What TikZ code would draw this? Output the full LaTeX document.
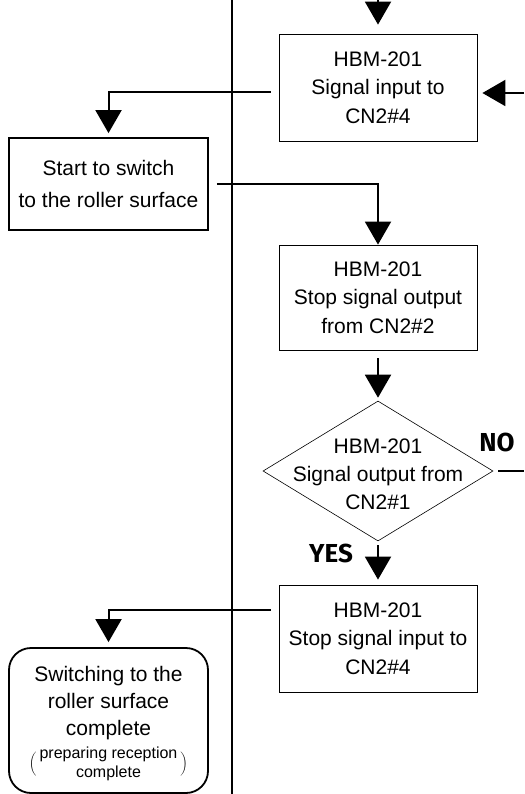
\documentclass[tikz,border=0pt]{standalone}
\usepackage{fontspec}
\setmainfont{Liberation Sans}
\newfontfamily\answerfont{Fira Sans}
\usetikzlibrary{arrows.meta,shapes.geometric}

\begin{document}
\begin{tikzpicture}[x=1pt, y=-1pt,
    procbox/.style={draw, line width=0.8pt, minimum width=198pt, minimum height=106pt,
        inner sep=0pt, align=center, font=\fontsize{21}{28.5}\selectfont},
    thickbox/.style={procbox, line width=1.8pt, minimum width=199pt},
    flowline/.style={line width=2pt, -{Triangle[width=26pt,length=23pt]}},
    answer/.style={font=\answerfont\bfseries\fontsize{26}{26}\selectfont}]
    \useasboundingbox (0,0) rectangle (524,794);

    % Separator between the two columns
    \draw[line width=2pt] (232,0) -- (232,794);

    % Right column: HBM-201 steps
    \node[procbox, minimum height=107pt] (inA) at (378,87.5) {HBM-201\\Signal input to\\CN2\#4};
    \node[procbox, minimum height=105pt] (stopout) at (378,297.5) {HBM-201\\Stop signal output\\ from CN2\#2};
    \node[draw, diamond, line width=0.6pt, minimum width=230pt, minimum height=140pt, inner sep=0pt] (chkout) at (378,471) {};
    \node[align=center, font=\fontsize{21}{28}\selectfont] (chktext) at ([yshift=-3pt]chkout.center) {HBM-201\\Signal output from\\CN2\#1};
    \node[procbox, minimum height=107pt] (stopin) at (378,638.5) {HBM-201\\Stop signal input to\\CN2\#4};
    \node[answer] (yes) at (331,553) {YES};
    \node[answer] (no) at (497,442) {NO};

    % Left column: roller surface
    \node[thickbox, minimum height=92pt, font=\fontsize{21}{32}\selectfont] (startsw) at (108.5,184) {Start to switch\\to the roller surface};
    \node[thickbox, rounded corners=22pt, minimum height=145pt, font=\fontsize{21}{27}\selectfont] (done) at (108.5,720.5)
        {\rule{0pt}{21pt}Switching to the\\roller surface\\complete\\[6pt]
        {\fontsize{16}{19}\selectfont$\Biggl(\vcenter{\halign{\hskip3pt\hfil#\hfil\hskip3pt\cr preparing reception\cr complete\cr}}\Biggr)$}};

    % Connectors
    \coordinate (topin) at (378,0);
    \coordinate (rightin) at (524,93);
    \coordinate (noout) at (524,471);
    \draw[flowline, shorten >=9pt] (topin) -- (inA);
    \draw[flowline, shorten >=5pt] (rightin) -- (rightin -| inA.east);
    \draw[flowline, shorten <=8pt, shorten >=4pt] ([yshift=-4.5pt]inA.west) -| (startsw);
    \draw[flowline, shorten <=8pt] (startsw.east) -| (stopout);
    \draw[flowline, shorten <=8pt, shorten >=3pt] (stopout) -- (chkout);
    \draw[line width=2pt, shorten <=5pt] (chkout.east) -- (noout);
    \draw[flowline, shorten <=4pt, shorten >=5pt] (chkout) -- (stopin);
    \draw[flowline, shorten <=8pt, shorten >=5pt] ([yshift=28.5pt]stopin.west) -| (done);
\end{tikzpicture}
\end{document}
